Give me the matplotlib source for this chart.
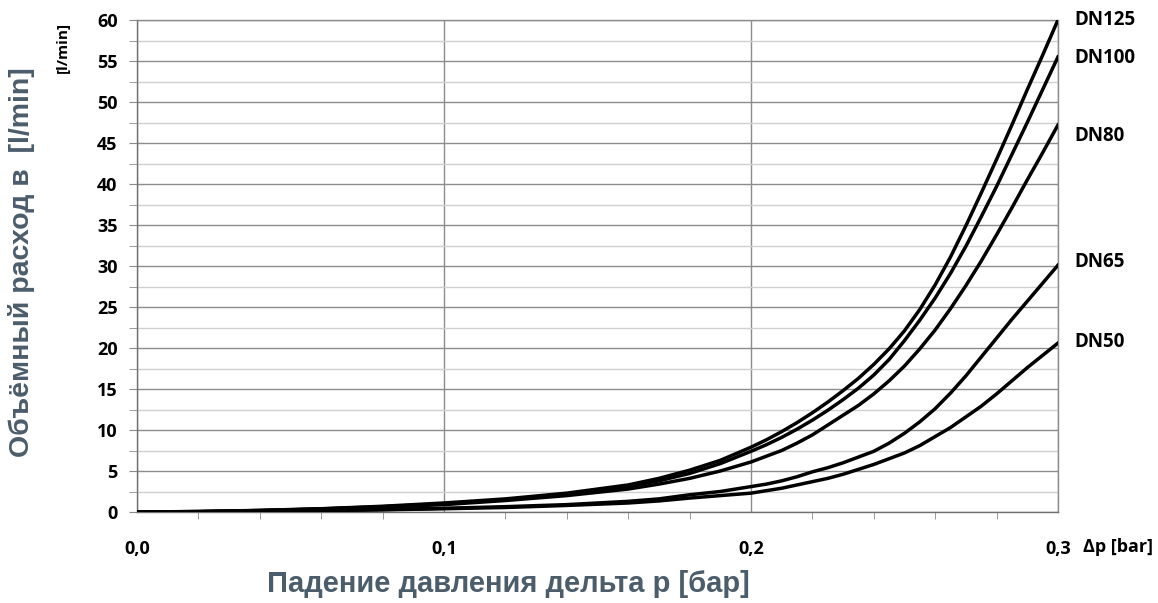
import matplotlib
matplotlib.use("Agg")
import matplotlib.pyplot as plt
from matplotlib.ticker import MultipleLocator, FixedLocator

# pressure drop [bar]
dp = [0.0, 0.02, 0.04, 0.06, 0.08, 0.10, 0.12, 0.14, 0.16, 0.17, 0.18, 0.19,
      0.200, 0.205, 0.210, 0.215, 0.220, 0.225, 0.230, 0.235, 0.240, 0.245,
      0.250, 0.255, 0.260, 0.265, 0.270, 0.275, 0.280, 0.285, 0.290, 0.295, 0.300]

# flow [l/min]
dn125 = [0, 0.06, 0.2, 0.4, 0.7, 1.1, 1.6, 2.3, 3.3, 4.1, 5.1, 6.3,
         7.9, 8.8, 9.8, 10.9, 12.1, 13.4, 14.8, 16.3, 18.0, 19.9, 22.1,
         24.7, 27.7, 31.1, 34.9, 38.9, 43.0, 47.2, 51.5, 55.7, 60.0]
dn100 = [0, 0.05, 0.18, 0.38, 0.65, 1.0, 1.5, 2.2, 3.1, 3.8, 4.7, 5.9,
         7.4, 8.2, 9.1, 10.1, 11.2, 12.4, 13.7, 15.1, 16.7, 18.6, 20.9,
         23.4, 26.1, 29.1, 32.4, 36.0, 39.7, 43.6, 47.5, 51.5, 55.5]
dn80 = [0, 0.05, 0.17, 0.35, 0.6, 0.9, 1.4, 2.0, 2.8, 3.4, 4.1, 5.0,
        6.1, 6.8, 7.5, 8.4, 9.4, 10.6, 11.8, 13.0, 14.4, 16.0, 17.8,
        19.9, 22.2, 24.8, 27.6, 30.6, 33.8, 37.1, 40.5, 43.8, 47.2]
dn65 = [0, 0.03, 0.09, 0.18, 0.3, 0.45, 0.65, 0.9, 1.3, 1.6, 2.1, 2.5,
        3.1, 3.4, 3.8, 4.3, 4.9, 5.4, 6.0, 6.7, 7.4, 8.4, 9.6,
        11.0, 12.6, 14.5, 16.6, 18.9, 21.2, 23.5, 25.7, 27.9, 30.1]
dn50 = [0, 0.02, 0.08, 0.16, 0.27, 0.4, 0.55, 0.8, 1.1, 1.35, 1.7, 2.0,
        2.3, 2.6, 2.9, 3.3, 3.7, 4.1, 4.6, 5.2, 5.8, 6.5, 7.2,
        8.1, 9.2, 10.3, 11.6, 12.9, 14.4, 16.0, 17.6, 19.1, 20.6]

series = [("DN125", dn125, 0), ("DN100", dn100, -1), ("DN80", dn80, -8),
          ("DN65", dn65, 2), ("DN50", dn50, 1)]

x_ticks = [0.0, 0.1, 0.2, 0.3]
x_labels = ["0,0", "0,1", "0,2", "0,3"]
y_ticks = list(range(0, 61, 5))

lab_font = "Open Sans"

fig = plt.figure(figsize=(11.58, 6.03), dpi=100)
ax = fig.add_axes([0.1183, 0.1509, 0.7953, 0.8159])

# lines
for name, vals, off in series:
    ax.plot(dp, vals, color="black", lw=2.5, solid_joinstyle="round", zorder=3)
    ax.annotate(name, xy=(dp[-1], vals[-1]), xytext=(12, off),
                textcoords="offset points", ha="left", va="center",
                fontsize=13.5, fontweight="bold", family=lab_font,
                annotation_clip=False)

ax.set_xlim(0, 0.3)
ax.set_ylim(0, 60)

# grid
ax.yaxis.set_major_locator(FixedLocator(y_ticks))
ax.yaxis.set_minor_locator(MultipleLocator(2.5))
ax.xaxis.set_major_locator(FixedLocator(x_ticks))
ax.xaxis.set_minor_locator(MultipleLocator(0.02))
ax.grid(True, which="major", axis="y", color="#8c8c8c", lw=1.0)
ax.grid(True, which="minor", axis="y", color="#d0d0d0", lw=1.0)
ax.grid(True, which="major", axis="x", color="#8c8c8c", lw=1.0)
ax.set_axisbelow(True)

for s in ax.spines.values():
    s.set_color("#8c8c8c")
    s.set_linewidth(1.0)
ax.spines["left"].set_color("#707070")
ax.spines["bottom"].set_color("#707070")

ax.tick_params(axis="y", which="both", length=6, color="#8c8c8c", pad=8)
ax.tick_params(axis="x", which="both", length=5, color="#8c8c8c", pad=20)
ax.tick_params(axis="x", which="major", length=0)

ax.set_xticks(x_ticks)
ax.set_xticklabels(x_labels)
ax.set_yticklabels([str(v) for v in y_ticks])
for lab in ax.get_xticklabels() + ax.get_yticklabels():
    lab.set_fontweight("bold")
    lab.set_fontsize(13)
    lab.set_family(lab_font)

# extra labels
fig.text(1083 / 1158, 1 - 547 / 603, "Δp [bar]", fontsize=13, fontweight="bold",
         family=lab_font, ha="left", va="center")
fig.text(63 / 1158, 1 - 47 / 603, "[l/min]", fontsize=11, fontweight="bold",
         family=lab_font, rotation=90, ha="center", va="center")
fig.text(22 / 1158, 1 - 262 / 603, "Объёмный расход в  [l/min]", fontsize=20.5,
         fontweight="bold", family="Liberation Sans", color="#4b5c6a",
         rotation=90, ha="center", va="center")
fig.text(508 / 1158, 1 - 584 / 603, "Падение давления дельта р [бар]", fontsize=21,
         fontweight="bold", family="Liberation Sans", color="#4b5c6a",
         ha="center", va="center")

fig.savefig("out.png", dpi=100)
